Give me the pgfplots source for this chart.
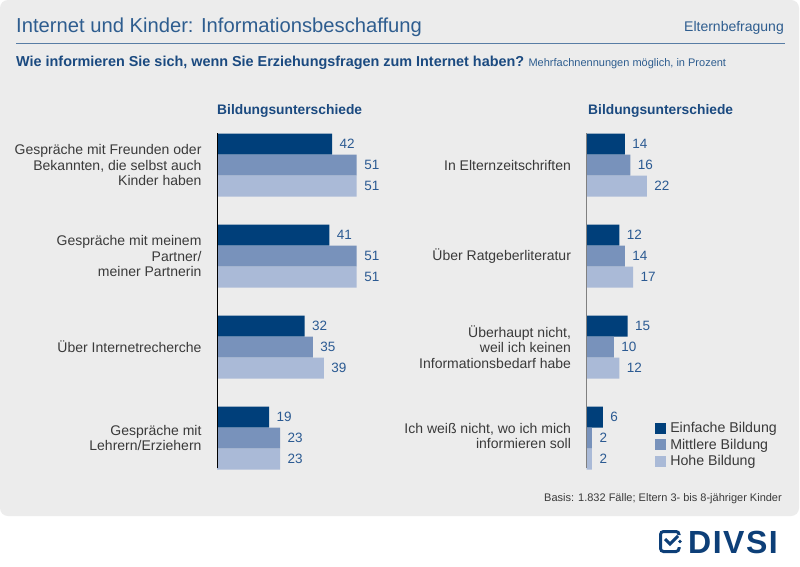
\documentclass[border=0pt]{standalone}
\usepackage{fontspec}
\setmainfont{Liberation Sans}
\usepackage{pgfplots}
\pgfplotsset{compat=1.18}
\definecolor{c1}{HTML}{003F7A}
\definecolor{c2}{HTML}{7892BB}
\definecolor{c3}{HTML}{AABAD7}
\definecolor{panel}{HTML}{ECECEC}
\definecolor{titleblue}{HTML}{2E5D8F}
\definecolor{darkblue}{HTML}{1B4A80}
\definecolor{valblue}{HTML}{2B5A92}
\definecolor{txt}{HTML}{3A3A3A}
\definecolor{logoblue}{HTML}{0D3F78}
\pgfplotsset{
 mybars/.style={
   xbar, bar width=21pt, bar shift=0pt,
   scale only axis, width=164.4pt, height=360pt,
   xmin=0, xmax=60, ymin=120, ymax=480, y dir=reverse,
   hide axis, clip=false,
   nodes near coords,
   nodes near coords style={font=\fontsize{13.5}{14}\selectfont, text=valblue, anchor=west, xshift=4pt},
   /pgf/number format/assume math mode=true,
   every axis plot/.append style={draw=none},
 },
}
\tikzset{catlab/.style={anchor=east, align=right, xshift=-12pt, text=txt, font=\fontsize{14}{15.5}\selectfont}}
\begin{document}
\begin{tikzpicture}
\fill[white] (0pt,0pt) rectangle (800pt,-567pt);
\fill[panel, rounded corners=8pt] (0pt,0pt) rectangle (799pt,-516pt);
\node[anchor=base west, inner sep=0pt, text=titleblue, font=\fontsize{20.2}{22}\selectfont] at (16pt,-33pt) {Internet und Kinder: Informationsbeschaffung};
\node[anchor=base east, inner sep=0pt, text=titleblue, font=\fontsize{14}{16}\selectfont] at (784pt,-32pt) {Elternbefragung};
\draw[titleblue!80, line width=1pt] (16pt,-44pt) -- (785pt,-44pt);
\node[anchor=base west, inner sep=0pt, text=darkblue, font=\fontsize{14.4}{16}\selectfont\bfseries] (sub) at (16pt,-67pt) {Wie informieren Sie sich, wenn Sie Erziehungsfragen zum Internet haben?};
\node[anchor=base west, inner sep=0pt, text=titleblue, font=\fontsize{11}{12}\selectfont] at ([xshift=4pt]sub.base east) {Mehrfachnennungen möglich, in Prozent};
\node[anchor=base west, inner sep=0pt, text=darkblue, font=\fontsize{13.8}{16}\selectfont\bfseries] at (217pt,-115pt) {Bildungsunterschiede};
\node[anchor=base west, inner sep=0pt, text=darkblue, font=\fontsize{13.8}{16}\selectfont\bfseries] at (588pt,-115pt) {Bildungsunterschiede};
\node[anchor=base east, inner sep=0pt, text=txt, font=\fontsize{11}{12}\selectfont] at (782pt,-501pt) {Basis: 1.832 Fälle; Eltern 3- bis 8-jähriger Kinder};

% left chart
\begin{axis}[mybars, at={(217pt,-120pt)}, anchor=north west]
\addplot[fill=c1] coordinates {(42,144) (41,235) (32,326) (19,417)};
\addplot[fill=c2] coordinates {(51,165) (51,256) (35,347) (23,438)};
\addplot[fill=c3] coordinates {(51,186) (51,277) (39,368) (23,459)};
\draw[black, line width=1pt] (axis cs:0,133) -- (axis cs:0,468);
\node[catlab] at (axis cs:0,165) {Gespräche mit Freunden oder\\Bekannten, die selbst auch\\Kinder haben};
\node[catlab] at (axis cs:0,256) {Gespräche mit meinem\\Partner/\\meiner Partnerin};
\node[catlab] at (axis cs:0,347) {Über Internetrecherche};
\node[catlab] at (axis cs:0,438) {Gespräche mit\\Lehrern/Erziehern};
\end{axis}

% right chart
\begin{axis}[mybars, at={(586.5pt,-120pt)}, anchor=north west,
  legend style={at={(0.417,0.163)}, anchor=north west, draw=none, fill=none,
    font=\fontsize{14.2}{15}\selectfont, text=txt, row sep=2.5pt, inner sep=0pt,
    nodes={inner xsep=4pt, inner ysep=1pt}},
  legend cell align=left,
  legend image code/.code={\fill[#1] (0pt,-5.5pt) rectangle (11pt,5.5pt);}]
\addplot[fill=c1] coordinates {(14,144) (12,235) (15,326) (6,417)};
\addplot[fill=c2] coordinates {(16,165) (14,256) (10,347) (2,438)};
\addplot[fill=c3] coordinates {(22,186) (17,277) (12,368) (2,459)};
\legend{Einfache Bildung, Mittlere Bildung, Hohe Bildung}
\draw[gray, line width=1pt] (axis cs:0,133) -- (axis cs:0,468);
\node[catlab] at (axis cs:0,165) {In Elternzeitschriften};
\node[catlab] at (axis cs:0,256) {Über Ratgeberliteratur};
\node[catlab] at (axis cs:0,347) {Überhaupt nicht,\\weil ich keinen\\Informationsbedarf habe};
\node[catlab] at (axis cs:0,436) {Ich weiß nicht, wo ich mich\\informieren soll};
\end{axis}

% logo
\draw[logoblue, line width=3pt, rounded corners=3pt] (679pt,-535pt) -- (679pt,-531.5pt) -- (660.5pt,-531.5pt) -- (660.5pt,-551.5pt) -- (679pt,-551.5pt) -- (679pt,-547pt);
\draw[logoblue, line width=3pt] (665pt,-539pt) -- (670pt,-544pt) -- (678pt,-536pt);
\fill[logoblue] (680pt,-541.5pt) circle (1.8pt);
\node[anchor=base west, inner sep=0pt, text=logoblue, font=\fontsize{32}{32}\selectfont\bfseries] at (688pt,-553pt) {D\kern1.5pt I\kern1.5pt V\kern1.5pt S\kern1.5pt I};
\end{tikzpicture}
\end{document}
